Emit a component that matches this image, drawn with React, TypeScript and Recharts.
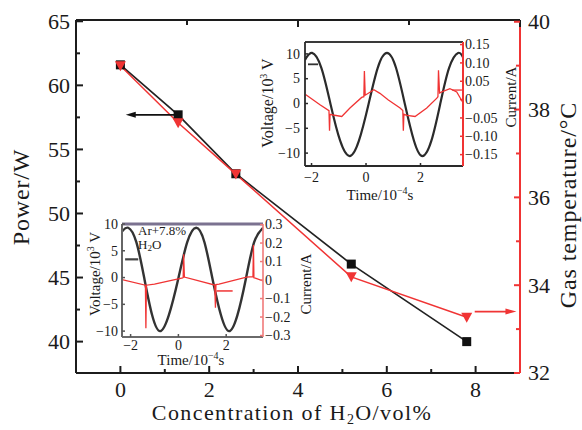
import React from 'react';
import { ComposedChart, Line, XAxis, YAxis, ReferenceLine } from 'recharts';

const FONT = '"Liberation Serif", "DejaVu Serif", serif';
const BLACK = '#1c1c1c';
const RED = '#f03434';

// ---------- main chart data ----------
const concentration = [0, 1.3, 2.6, 5.2, 7.8];
const power = [61.6, 57.7, 53.1, 46.05, 40.0];
const gasTemp = [39.0, 37.7, 36.53, 34.19, 33.27];

const xTicks = [0, 1, 2, 3, 4, 5, 6, 7, 8];
const xMajor = [0, 2, 4, 6, 8];
const xLabels = ['0', '2', '4', '6', '8'];
const powerTicks = [40, 42.5, 45, 47.5, 50, 52.5, 55, 57.5, 60, 62.5, 65];
const powerMajor = [40, 45, 50, 55, 60, 65];
const powerLabels = ['40', '45', '50', '55', '60', '65'];
const tempTicks = [32, 33, 34, 35, 36, 37, 38, 39, 40];
const tempMajor = [32, 34, 36, 38, 40];
const tempLabels = ['32', '34', '36', '38', '40'];

// arrows (x from, x to, value)
const powerArrow = [1.3, 0.12, 57.7];
const tempArrow = [7.98, 8.92, 33.4];

// ---------- inset 1 (upper right) ----------
const in1VTime = [-2.24, -1.98, -1.64, -1.30, -0.95, -0.60, -0.26, 0.09, 0.43, 0.77, 1.10, 1.43, 1.76, 2.07, 2.40, 2.72, 3.05, 3.38, 3.56];
const in1Volt = [8.8, 10.2, 7.2, -0.2, -7.5, -10.6, -7.5, -0.2, 7.2, 10.2, 7.2, -0.2, -7.5, -10.6, -7.5, -0.2, 7.2, 10.2, 9.3];
const in1ITime = [-2.22, -1.69, -1.36, -1.34, -1.32, -1.21, -0.89, -0.59, -0.16, -0.08, -0.06, -0.03, 0.29, 0.51, 0.82, 1.25, 1.35, 1.37, 1.39, 1.50, 1.80, 2.23, 2.60, 2.64, 2.66, 2.70, 2.78, 3.08, 3.33, 3.54];
const in1Curr = [0.014, -0.014, -0.030, -0.085, -0.040, -0.042, -0.046, -0.023, 0.006, 0.008, 0.078, 0.012, 0.027, 0.017, -0.001, -0.023, -0.030, -0.085, -0.040, -0.043, -0.046, -0.023, 0.004, 0.008, 0.080, 0.018, 0.021, 0.030, 0.021, -0.006];
const in1TTicks = [-2, 0, 2];
const in1TLabels = ['−2', '0', '2'];
const in1VTicks = [-10, -5, 0, 5, 10];
const in1VLabels = ['−10', '−5', '0', '5', '10'];
const in1ITicks = [-0.15, -0.1, -0.05, 0, 0.05, 0.1, 0.15];
const in1ILabels = ['−0.15', '−0.10', '−0.05', '0', '0.05', '0.10', '0.15'];
const in1VMark = [-2.13, -1.76, 7.9];
const in1IMark = [3.16, 3.52, 0.026];

// ---------- inset 2 (lower left) ----------
const in2VTime = [-2.36, -2.10, -1.76, -1.42, -1.10, -0.77, -0.40, -0.01, 0.37, 0.745, 1.09, 1.43, 1.78, 2.12, 2.47, 2.82, 3.17, 3.54];
const in2Volt = [8.6, 9.3, 6.6, -0.3, -7.0, -10.0, -7.0, -0.3, 6.6, 9.3, 6.6, -0.3, -7.0, -10.0, -7.0, -0.3, 6.6, 9.3];
const in2ITime = [-2.36, -1.38, -1.36, -1.34, -1.0, 0.18, 0.20, 0.22, 0.25, 1.52, 1.55, 1.57, 1.70, 2.85, 3.12, 3.14, 3.16, 3.22, 3.54];
const in2Curr = [0.002, -0.028, -0.26, -0.028, -0.022, 0.012, 0.014, 0.14, 0.016, -0.027, -0.15, -0.025, -0.022, 0.016, 0.018, 0.19, 0.012, 0.010, -0.005];
const in2TTicks = [-2, 0, 2];
const in2TLabels = ['−2', '0', '2'];
const in2VTicks = [-10, -5, 0, 5, 10];
const in2VLabels = ['−10', '−5', '0', '5', '10'];
const in2ITicks = [-0.3, -0.2, -0.1, 0, 0.1, 0.2, 0.3];
const in2ILabels = ['−0.3', '−0.2', '−0.1', '0', '0.1', '0.2', '0.3'];
const in2VMark = [-2.23, -1.68, 3.4];
const in2IMark = [1.6, 2.27, -0.059];

const mainData = concentration.map((x, i) => ({ x, power: power[i], temp: gasTemp[i] }));
const zip = (ts: number[], vs: number[], key: string) => ts.map((t, i) => ({ t, [key]: vs[i] }));

type TickOpts = {
  side: 'bottom' | 'top' | 'left' | 'right';
  major: number[];
  labels?: string[];
  majorLen: number;
  minorLen: number;
  stroke: string;
  fontSize: number;
  offset: number;
  width?: number;
};

const makeTick = (o: TickOpts) => (props: any) => {
  const { x, y, payload } = props;
  const v = payload.value as number;
  const idx = o.major.findIndex((m) => Math.abs(m - v) < 1e-9);
  const isMajor = idx >= 0;
  const len = isMajor ? o.majorLen : o.minorLen;
  const label = isMajor && o.labels ? o.labels[idx] : null;
  const sw = o.width ?? 1.5;
  let line: any = null;
  let text: any = null;
  const ts = { fontSize: o.fontSize, fontFamily: FONT, fill: '#1a1a1a' };
  if (o.side === 'bottom') {
    line = <line x1={x} y1={y} x2={x} y2={y - len} stroke={o.stroke} strokeWidth={sw} />;
    if (label) text = <text x={x} y={y + o.offset} textAnchor="middle" {...ts}>{label}</text>;
  } else if (o.side === 'top') {
    line = <line x1={x} y1={y} x2={x} y2={y + len} stroke={o.stroke} strokeWidth={sw} />;
  } else if (o.side === 'left') {
    line = <line x1={x} y1={y} x2={x + len} y2={y} stroke={o.stroke} strokeWidth={sw} />;
    if (label) text = <text x={x - o.offset} y={y + o.fontSize * 0.34} textAnchor="end" {...ts}>{label}</text>;
  } else {
    line = <line x1={x} y1={y} x2={x - len} y2={y} stroke={o.stroke} strokeWidth={sw} />;
    if (label) text = <text x={x + o.offset} y={y + o.fontSize * 0.34} textAnchor="start" {...ts}>{label}</text>;
  }
  return (
    <g>
      {len > 0 ? line : null}
      {text}
    </g>
  );
};

const arrowShape = (color: string, head: number, headW: number, sw: number) => (p: any) => {
  const { x1, y1, x2, y2 } = p;
  const dir = Math.sign(x2 - x1) || 1;
  return (
    <g>
      <line x1={x1} y1={y1} x2={x2 - dir * head * 0.7} y2={y2} stroke={color} strokeWidth={sw} />
      <polygon points={`${x2},${y2} ${x2 - dir * head},${y2 - headW / 2} ${x2 - dir * head},${y2 + headW / 2}`} fill={color} />
    </g>
  );
};

const dashShape = (color: string, sw: number) => (p: any) => (
  <line x1={p.x1} y1={p.y1} x2={p.x2} y2={p.y2} stroke={color} strokeWidth={sw} />
);

const squareDot = (p: any) => (
  <rect key={`s${p.index}`} x={p.cx - 4.5} y={p.cy - 4.5} width={9} height={9} fill="#111" />
);
const triDot = (p: any) => (
  <polygon
    key={`t${p.index}`}
    points={`${p.cx - 5.5},${p.cy - 4.5} ${p.cx + 5.5},${p.cy - 4.5} ${p.cx},${p.cy + 5.5}`}
    fill={RED}
  />
);

const sup = (s: string, fs: number) => (
  <tspan fontSize={fs} dy={-fs * 0.6}>{s}</tspan>
);

export default function App() {
  return (
    <div style={{ position: 'absolute', left: 0, top: 0, width: 582, height: 430, background: '#fff', overflow: 'hidden' }}>
      {/* main chart */}
      <div style={{ position: 'absolute', left: 0, top: 0 }}>
        <ComposedChart width={582} height={430} data={mainData} margin={{ top: 19, right: 12, bottom: 27, left: 16 }}>
          <XAxis
            xAxisId="b" dataKey="x" type="number" domain={[-1, 9]} allowDataOverflow ticks={xTicks} interval={0}
            height={30} tickSize={0} tickMargin={0} tickLine={false}
            axisLine={{ stroke: BLACK, strokeWidth: 2 }}
            tick={makeTick({ side: 'bottom', major: xMajor, labels: xLabels, majorLen: 7, minorLen: 4, stroke: BLACK, fontSize: 22, offset: 24, width: 2 })}
          />
          <XAxis
            xAxisId="t" orientation="top" type="number" domain={[-1, 9]} allowDataOverflow ticks={xTicks} interval={0}
            height={1} tickSize={0} tickMargin={0} tickLine={false}
            axisLine={{ stroke: BLACK, strokeWidth: 2 }}
            tick={makeTick({ side: 'top', major: xMajor, majorLen: 7, minorLen: 5, stroke: BLACK, fontSize: 22, offset: 0, width: 2 })}
          />
          <YAxis
            yAxisId="left" type="number" domain={[37.55, 65.1]} allowDataOverflow ticks={powerTicks} interval={0}
            width={60} tickSize={0} tickMargin={0} tickLine={false}
            axisLine={{ stroke: BLACK, strokeWidth: 2 }}
            tick={makeTick({ side: 'left', major: powerMajor, labels: powerLabels, majorLen: 7, minorLen: 4, stroke: BLACK, fontSize: 22, offset: 6, width: 2 })}
          />
          <YAxis
            yAxisId="right" orientation="right" type="number" domain={[32, 40.04]} allowDataOverflow ticks={tempTicks} interval={0}
            width={50} tickSize={0} tickMargin={0} tickLine={false}
            axisLine={{ stroke: RED, strokeWidth: 2 }}
            tick={makeTick({ side: 'right', major: tempMajor, labels: tempLabels, majorLen: 6, minorLen: 4, stroke: RED, fontSize: 22, offset: 8, width: 2 })}
          />
          <Line xAxisId="b" yAxisId="left" dataKey="power" type="linear" stroke="#222" strokeWidth={1.7} dot={squareDot} isAnimationActive={false} />
          <Line xAxisId="b" yAxisId="right" dataKey="temp" type="linear" stroke={RED} strokeWidth={1.5} dot={triDot} isAnimationActive={false} />
          <ReferenceLine
            xAxisId="b" yAxisId="left"
            segment={[{ x: powerArrow[0], y: powerArrow[2] }, { x: powerArrow[1], y: powerArrow[2] }]}
            shape={arrowShape('#111', 10, 6, 1.8)}
          />
          <ReferenceLine
            xAxisId="b" yAxisId="right"
            segment={[{ x: tempArrow[0], y: tempArrow[2] }, { x: tempArrow[1], y: tempArrow[2] }]}
            shape={arrowShape(RED, 11, 6, 1.8)}
          />
        </ComposedChart>
      </div>

      {/* inset 1 (upper right) */}
      <div style={{ position: 'absolute', left: 255, top: 30 }}>
        <ComposedChart width={262} height={180} margin={{ top: 11, right: 7, bottom: 14, left: 5 }}>
          <XAxis
            xAxisId="b" dataKey="t" type="number" domain={[-2.24, 3.56]} allowDataOverflow ticks={in1TTicks} interval={0}
            height={30} tickSize={0} tickMargin={0} tickLine={false}
            axisLine={{ stroke: '#2a2a2a', strokeWidth: 1.8 }}
            tick={makeTick({ side: 'bottom', major: in1TTicks, labels: in1TLabels, majorLen: 3, minorLen: 0, stroke: '#2a2a2a', fontSize: 14, offset: 16 })}
          />
          <XAxis
            xAxisId="t" orientation="top" type="number" domain={[-2.24, 3.56]} allowDataOverflow ticks={in1TTicks} interval={0}
            height={1} tickSize={0} tickMargin={0} tickLine={false} tick={false}
            axisLine={{ stroke: '#3a3a3a', strokeWidth: 2 }}
          />
          <YAxis
            yAxisId="v" type="number" domain={[-12.6, 12.4]} allowDataOverflow ticks={in1VTicks} interval={0}
            width={45} tickSize={0} tickMargin={0} tickLine={false}
            axisLine={{ stroke: '#2a2a2a', strokeWidth: 1.8 }}
            tick={makeTick({ side: 'left', major: in1VTicks, labels: in1VLabels, majorLen: 3, minorLen: 0, stroke: '#2a2a2a', fontSize: 14, offset: 5 })}
          />
          <YAxis
            yAxisId="i" orientation="right" type="number" domain={[-0.181, 0.157]} allowDataOverflow ticks={in1ITicks} interval={0}
            width={47} tickSize={0} tickMargin={0} tickLine={false}
            axisLine={{ stroke: RED, strokeWidth: 2 }}
            tick={makeTick({ side: 'right', major: in1ITicks, labels: in1ILabels, majorLen: 3, minorLen: 0, stroke: RED, fontSize: 14, offset: 2 })}
          />
          <Line xAxisId="b" yAxisId="v" data={zip(in1VTime, in1Volt, 'v')} dataKey="v" type="natural" stroke="#2b2b2b" strokeWidth={2.2} dot={false} isAnimationActive={false} />
          <Line xAxisId="b" yAxisId="i" data={zip(in1ITime, in1Curr, 'i')} dataKey="i" type="linear" stroke={RED} strokeWidth={1.3} dot={false} isAnimationActive={false} />
          <ReferenceLine xAxisId="b" yAxisId="v" segment={[{ x: in1VMark[0], y: in1VMark[2] }, { x: in1VMark[1], y: in1VMark[2] }]} shape={dashShape('#333', 1.8)} />
          <ReferenceLine xAxisId="b" yAxisId="i" segment={[{ x: in1IMark[0], y: in1IMark[2] }, { x: in1IMark[1], y: in1IMark[2] }]} shape={dashShape(RED, 1.3)} />
        </ComposedChart>
      </div>

      {/* inset 2 (lower left) */}
      <div style={{ position: 'absolute', left: 80, top: 214 }}>
        <ComposedChart width={240} height={154} margin={{ top: 9, right: 7, bottom: 9, left: 4 }}>
          <XAxis
            xAxisId="b" dataKey="t" type="number" domain={[-2.36, 3.54]} allowDataOverflow ticks={in2TTicks} interval={0}
            height={22} tickSize={0} tickMargin={0} tickLine={false}
            axisLine={{ stroke: '#6a6a6a', strokeWidth: 2 }}
            tick={makeTick({ side: 'bottom', major: in2TTicks, labels: in2TLabels, majorLen: 3, minorLen: 0, stroke: '#555', fontSize: 14, offset: 13 })}
          />
          <XAxis
            xAxisId="t" orientation="top" type="number" domain={[-2.36, 3.54]} allowDataOverflow ticks={in2TTicks} interval={0}
            height={1} tickSize={0} tickMargin={0} tickLine={false} tick={false}
            axisLine={{ stroke: '#7b7290', strokeWidth: 3 }}
          />
          <YAxis
            yAxisId="v" type="number" domain={[-11.1, 10.0]} allowDataOverflow ticks={in2VTicks} interval={0}
            width={38} tickSize={0} tickMargin={0} tickLine={false}
            axisLine={{ stroke: '#666', strokeWidth: 2 }}
            tick={makeTick({ side: 'left', major: in2VTicks, labels: in2VLabels, majorLen: 3, minorLen: 0, stroke: '#555', fontSize: 14, offset: 4 })}
          />
          <YAxis
            yAxisId="i" orientation="right" type="number" domain={[-0.308, 0.303]} allowDataOverflow ticks={in2ITicks} interval={0}
            width={50} tickSize={0} tickMargin={0} tickLine={false}
            axisLine={{ stroke: '#f07a7a', strokeWidth: 1.6 }}
            tick={makeTick({ side: 'right', major: in2ITicks, labels: in2ILabels, majorLen: 3, minorLen: 0, stroke: '#f07a7a', fontSize: 14, offset: 2 })}
          />
          <Line xAxisId="b" yAxisId="v" data={zip(in2VTime, in2Volt, 'v')} dataKey="v" type="natural" stroke="#333" strokeWidth={2.4} dot={false} isAnimationActive={false} />
          <Line xAxisId="b" yAxisId="i" data={zip(in2ITime, in2Curr, 'i')} dataKey="i" type="linear" stroke={RED} strokeWidth={1.3} dot={false} isAnimationActive={false} />
          <ReferenceLine xAxisId="b" yAxisId="v" segment={[{ x: in2VMark[0], y: in2VMark[2] }, { x: in2VMark[1], y: in2VMark[2] }]} shape={dashShape('#444', 2.2)} />
          <ReferenceLine xAxisId="b" yAxisId="i" segment={[{ x: in2IMark[0], y: in2IMark[2] }, { x: in2IMark[1], y: in2IMark[2] }]} shape={dashShape(RED, 1.5)} />
        </ComposedChart>
      </div>

      {/* titles and annotations */}
      <svg width={582} height={430} style={{ position: 'absolute', left: 0, top: 0, pointerEvents: 'none' }} fontFamily={FONT} fill="#1a1a1a">
        <text transform="translate(29,197) rotate(-90)" textAnchor="middle" fontSize={24} letterSpacing={0.8}>Power/W</text>
        <text transform="translate(576,205) rotate(-90)" textAnchor="middle" fontSize={24} letterSpacing={0.9}>Gas temperature/°C</text>
        <text x={292} y={420} textAnchor="middle" fontSize={22} letterSpacing={1.4}>
          Concentration of H<tspan fontSize={14} dy={4}>2</tspan><tspan dy={-4}>O/vol%</tspan>
        </text>

        {/* inset 1 */}
        <text transform="translate(273,103) rotate(-90)" textAnchor="middle" fontSize={16}>
          Voltage/10{sup('3', 10)}<tspan dy={6}> V</tspan>
        </text>
        <text transform="translate(516,97) rotate(-90)" textAnchor="middle" fontSize={15}>Current/A</text>
        <text x={380} y={200} textAnchor="middle" fontSize={15}>
          Time/10{sup('−4', 10)}<tspan dy={6}>s</tspan>
        </text>

        {/* inset 2 */}
        <text transform="translate(100,274) rotate(-90)" textAnchor="middle" fontSize={15}>
          Voltage/10{sup('3', 10)}<tspan dy={6}> V</tspan>
        </text>
        <text transform="translate(311,284) rotate(-90)" textAnchor="middle" fontSize={15}>Current/A</text>
        <text x={191} y={365} textAnchor="middle" fontSize={15}>
          Time/10{sup('−4', 10)}<tspan dy={6}>s</tspan>
        </text>
        <text x={138} y={235} fontSize={13}>Ar+7.8%</text>
        <text x={138} y={249} fontSize={13}>
          H<tspan fontSize={9} dy={2}>2</tspan><tspan dy={-2}>O</tspan>
        </text>
      </svg>
    </div>
  );
}
